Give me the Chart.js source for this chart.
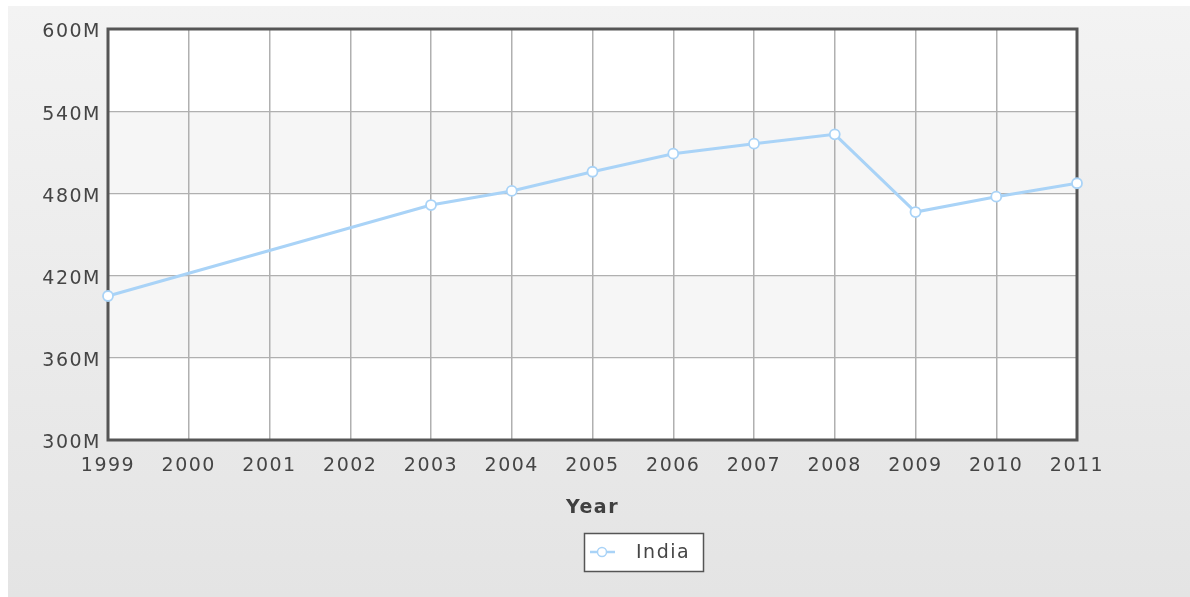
<!DOCTYPE html>
<html><head><meta charset="utf-8">
<script src="https://cdn.jsdelivr.net/npm/chart.js@4"></script>
<style>html,body{margin:0;padding:0;background:#fff;overflow:hidden}canvas{display:block}</style>
</head><body>
<canvas id="c" width="1190" height="597"></canvas>
<script>
const years = ['1999','2000','2001','2002','2003','2004','2005','2006','2007','2008','2009','2010','2011'];
const indiaValues = [405.1e6, null, null, null, 471.5e6, 481.8e6, 495.8e6, 509.0e6, 516.3e6, 523.1e6, 466.4e6, 477.6e6, 487.4e6];
const seriesName = 'India';
const xAxisTitle = 'Year';
const yMin = 300e6, yMax = 600e6, yStep = 60e6;

const FONT = '"DejaVu Sans", Verdana, sans-serif';
const FONT_SIZE = 19;
const SPACING = '1.5px';
const LINE_COLOR = '#a9d3f7';
const TEXT_COLOR = '#454545';

const spacingPlugin = {
  id: 'spacing',
  beforeLayout(chart) { chart.ctx.letterSpacing = SPACING; },
  beforeDraw(chart) { chart.ctx.letterSpacing = SPACING; }
};

const bgPlugin = {
  id: 'bg',
  beforeDraw(chart) {
    const {ctx, chartArea: a, scales: {y}} = chart;
    ctx.save();
    const g = ctx.createLinearGradient(0, 6, 0, chart.height);
    g.addColorStop(0, '#f3f3f3');
    g.addColorStop(1, '#e4e4e4');
    ctx.fillStyle = g;
    ctx.fillRect(8, 6, chart.width - 8, chart.height - 6);
    ctx.fillStyle = '#ffffff';
    ctx.fillRect(a.left, a.top, a.right - a.left, a.bottom - a.top);
    const t = y.ticks;
    ctx.fillStyle = '#f6f6f6';
    for (let i = 0; i < t.length - 1; i++) {
      if (i % 2 === 1) {
        const y0 = y.getPixelForValue(t[i].value);
        const y1 = y.getPixelForValue(t[i + 1].value);
        ctx.fillRect(a.left, y1, a.right - a.left, y0 - y1);
      }
    }
    ctx.restore();
  },
  beforeDatasetsDraw(chart) {
    const {ctx, chartArea: a} = chart;
    ctx.save();
    ctx.strokeStyle = '#555555';
    ctx.lineWidth = 3;
    ctx.strokeRect(a.left, a.top, a.right - a.left, a.bottom - a.top);
    ctx.restore();
  },
  afterDraw(chart) {
    const {ctx, chartArea: a} = chart;
    const ds = chart.data.datasets[0];
    const left = Math.round((a.left + a.right) / 2) - 9, top = a.bottom + 93;
    const w = 120, h = 39;
    ctx.save();
    ctx.fillStyle = '#ffffff';
    ctx.fillRect(left, top, w, h);
    ctx.strokeStyle = '#555555';
    ctx.lineWidth = 1.5;
    ctx.strokeRect(left + 0.5, top + 0.5, w - 1, h - 1);
    const cy = top + 19;
    ctx.strokeStyle = ds.borderColor;
    ctx.lineWidth = 2.5;
    ctx.beginPath(); ctx.moveTo(left + 6, cy); ctx.lineTo(left + 31, cy); ctx.stroke();
    ctx.fillStyle = '#fff';
    ctx.lineWidth = 1.5;
    ctx.beginPath(); ctx.arc(left + 18, cy, 4.5, 0, Math.PI * 2); ctx.fill(); ctx.stroke();
    ctx.letterSpacing = SPACING;
    ctx.fillStyle = TEXT_COLOR;
    ctx.font = FONT_SIZE + 'px ' + FONT;
    ctx.textBaseline = 'middle';
    ctx.textAlign = 'left';
    ctx.fillText(ds.label, left + 52, cy + 1);
    ctx.restore();
  }
};

new Chart(document.getElementById('c'), {
  type: 'line',
  data: {
    labels: years,
    datasets: [{
      label: seriesName,
      data: indiaValues,
      spanGaps: true,
      borderColor: LINE_COLOR,
      borderWidth: 3,
      pointRadius: 5,
      pointBorderWidth: 1.8,
      pointBackgroundColor: '#ffffff',
      pointBorderColor: LINE_COLOR,
      tension: 0,
      clip: false
    }]
  },
  options: {
    responsive: false,
    animation: false,
    layout: {padding: {left: 0, top: 29, right: 113, bottom: 67}},
    plugins: {legend: {display: false}, tooltip: {enabled: false}},
    scales: {
      x: {
        offset: false,
        grid: {color: '#b0b0b0', lineWidth: 1.5, drawTicks: false},
        border: {display: false},
        ticks: {color: TEXT_COLOR, font: {family: FONT, size: FONT_SIZE}, padding: 14.5, maxRotation: 0, autoSkip: false},
        title: {display: true, text: xAxisTitle, color: '#404040', font: {family: FONT, size: FONT_SIZE, weight: 'bold'}, padding: {top: 0, bottom: 10.5}},
        afterFit(s) { s.height = 90; }
      },
      y: {
        min: yMin, max: yMax,
        grid: {color: '#b0b0b0', lineWidth: 1.2, drawTicks: false},
        border: {display: false},
        ticks: {stepSize: yStep, color: TEXT_COLOR, font: {family: FONT, size: FONT_SIZE}, padding: 7, labelOffset: 3.5,
                callback: v => (v / 1e6) + 'M'},
        afterFit(s) { s.width = 108; }
      }
    }
  },
  plugins: [spacingPlugin, bgPlugin]
});
</script>
</body></html>
